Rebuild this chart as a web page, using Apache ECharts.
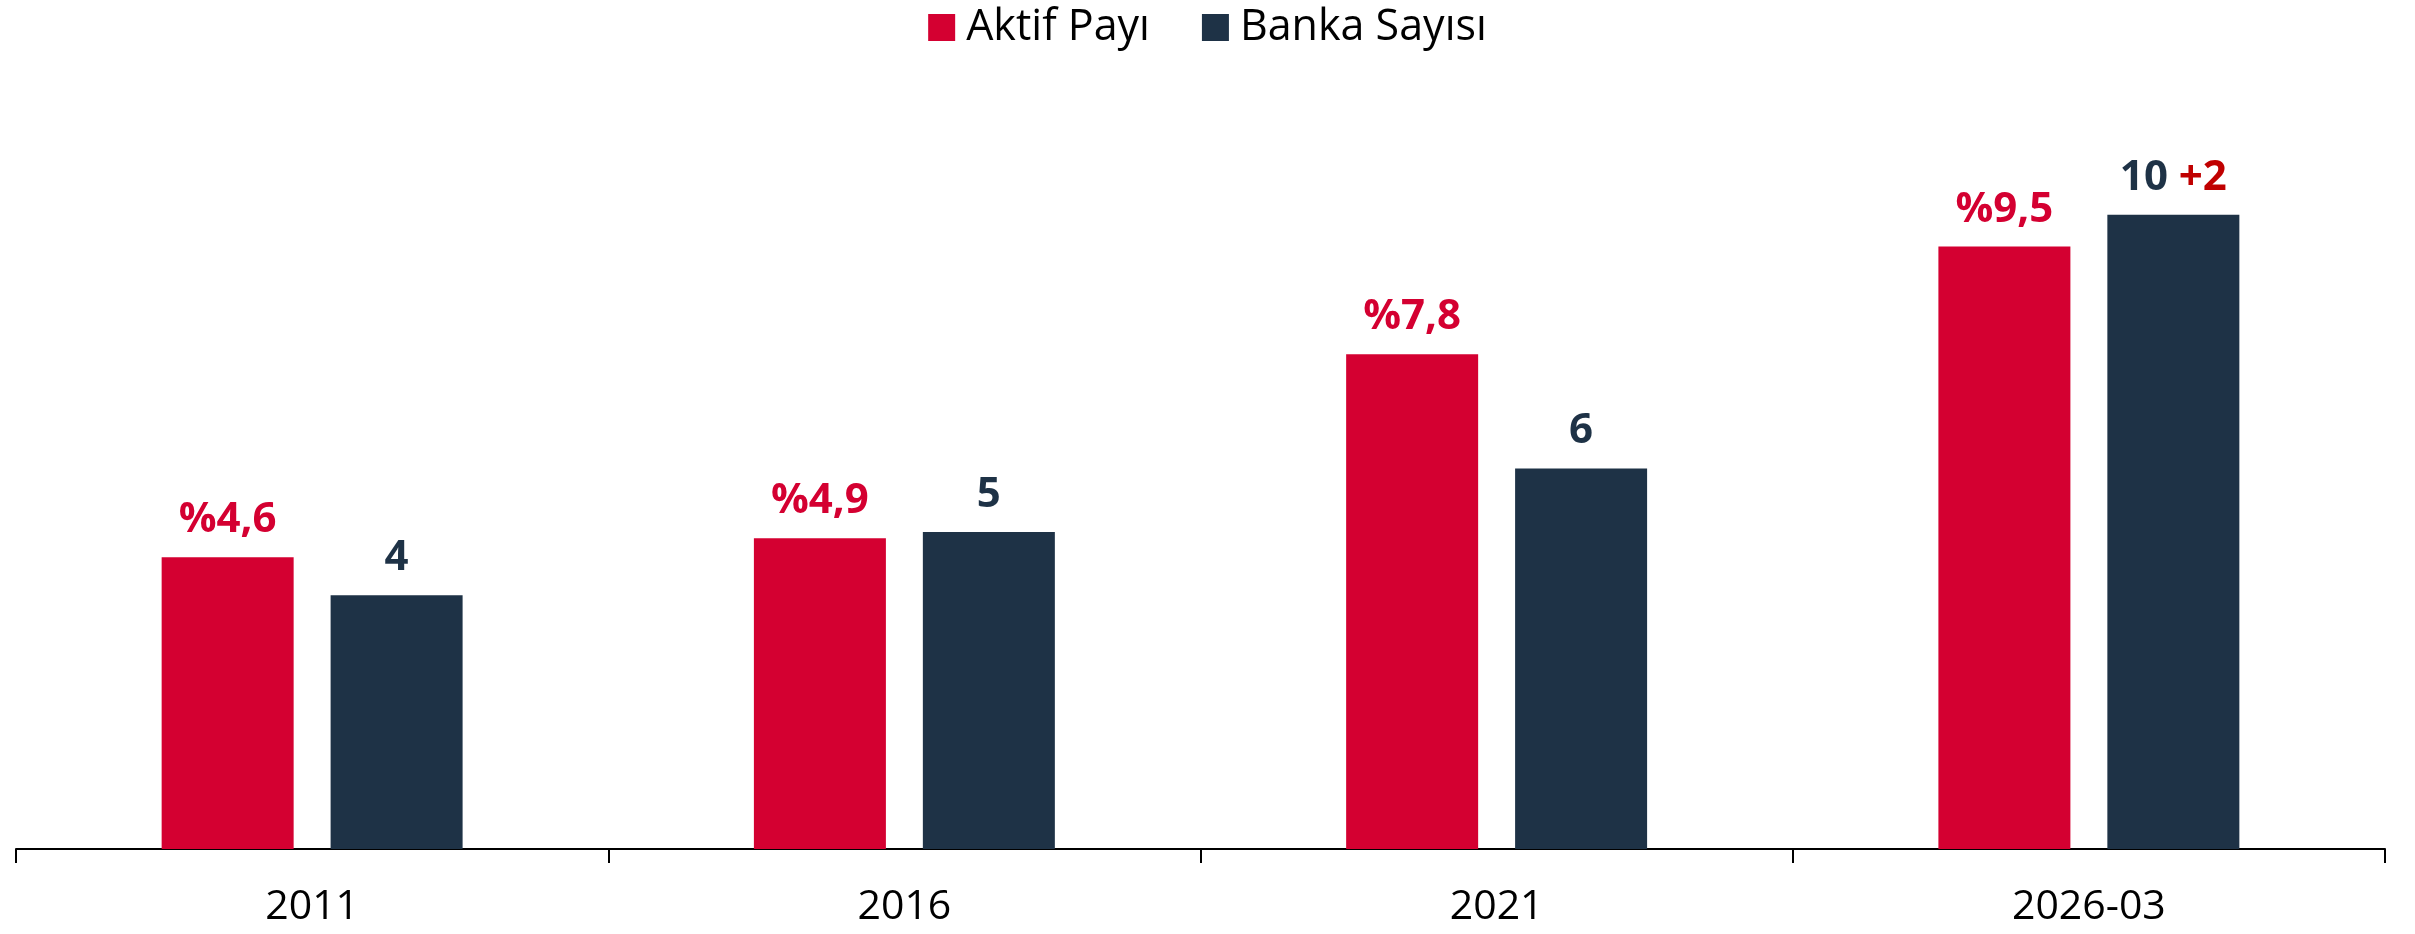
<!DOCTYPE html>
<html>
<head>
<meta charset="utf-8">
<script src="https://cdn.jsdelivr.net/npm/echarts@6/dist/echarts.min.js"></script>
<style>
html,body{margin:0;padding:0;background:#fff;}
#chart{width:2415px;height:934px;}
</style>
</head>
<body>
<div id="chart"></div>
<script>
const categories = ['2011', '2016', '2021', '2026-03'];
const aktifPayi = [4.6, 4.9, 7.8, 9.5];
const bankaSayisi = [4, 5, 6, 10];
const bankaArtis = ['', '', '', '+2'];
const seriesNames = ['Aktif Payı', 'Banka Sayısı'];

const RED = '#D40031';
const NAVY = '#1E3246';
const FONT = 'Open Sans';

const chart = echarts.init(document.getElementById('chart'));
chart.setOption({
  animation: false,
  textStyle: { fontFamily: FONT },
  legend: {
    data: seriesNames,
    top: 1,
    left: 'center',
    icon: 'rect',
    itemWidth: 27,
    itemHeight: 27,
    itemGap: 52,
    textStyle: { fontFamily: FONT, fontSize: 43, color: '#000', padding: [0, 0, 0, 6] }
  },
  grid: { left: 16, right: 30, top: 88, bottom: 85, containLabel: false },
  xAxis: {
    type: 'category',
    data: categories,
    boundaryGap: true,
    axisLine: { lineStyle: { color: '#000', width: 2 } },
    axisTick: { show: true, length: 14, lineStyle: { color: '#000', width: 2 } },
    axisLabel: { fontFamily: FONT, fontSize: 41, color: '#000', margin: 38 }
  },
  yAxis: {
    type: 'value',
    min: 0,
    max: 12,
    show: false,
    splitLine: { show: false }
  },
  series: [
    {
      name: seriesNames[0],
      type: 'bar',
      data: aktifPayi,
      barWidth: 132,
      barGap: '28%',
      itemStyle: { color: RED },
      label: {
        show: true,
        position: 'top',
        distance: 16,
        fontFamily: FONT,
        fontWeight: 'bold',
        fontSize: 42,
        color: RED,
        formatter: p => '%' + String(p.value).replace('.', ',')
      }
    },
    {
      name: seriesNames[1],
      type: 'bar',
      data: bankaSayisi,
      barWidth: 132,
      itemStyle: { color: NAVY },
      label: {
        show: true,
        position: 'top',
        distance: 16,
        fontFamily: FONT,
        fontWeight: 'bold',
        fontSize: 42,
        color: NAVY,
        formatter: p => bankaArtis[p.dataIndex] ? '{n|' + p.value + '} {d|' + bankaArtis[p.dataIndex] + '}' : '{n|' + p.value + '}',
        rich: {
          n: { fontFamily: FONT, fontWeight: 'bold', fontSize: 42, color: NAVY },
          d: { fontFamily: FONT, fontWeight: 'bold', fontSize: 42, color: '#C00000' }
        }
      }
    }
  ]
});
</script>
</body>
</html>
